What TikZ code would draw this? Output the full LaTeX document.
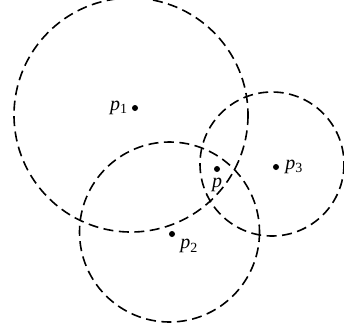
\documentclass[tikz,border=0pt]{standalone}
\usepackage{amsmath}
\usepackage{fontspec}
\setmainfont{Liberation Serif}
\usetikzlibrary{positioning}

\begin{document}
\begin{tikzpicture}[x=1pt, y=-1pt,
    rangecirc/.style={dash pattern=on 10pt off 5.5pt, line width=1.6pt},
    anchorpt/.style={circle, fill, inner sep=0pt, minimum size=6pt},
    lbl/.style={font=\fontsize{20}{24}\selectfont, inner sep=1pt}]
        % Khung hình
        \useasboundingbox (0,0) rectangle (344,335);

        % Các đường tròn nét đứt
        \draw[rangecirc] (131,115) circle (117);
        \draw[rangecirc] (169.5,232) circle (90);
        \draw[rangecirc] (272,164) circle (72);

        % Các điểm
        \node[anchorpt] (p1) at (135,108) {};
        \node[anchorpt] (p2) at (172,234) {};
        \node[anchorpt] (p3) at (276,167) {};
        \node[anchorpt] (p)  at (217,169) {};

        % Nhãn
        \node[lbl, left=3pt of p1] (lp1) {\textit{p}\textsubscript{1}};
        \node[lbl, below right=2pt and 5pt of p2] (lp2) {\textit{p}\textsubscript{2}};
        \node[lbl, right=5pt of p3] (lp3) {\textit{p}\textsubscript{3}};
        \node[lbl, below=5pt of p] (lp) {\textit{p}};
\end{tikzpicture}
\end{document}
